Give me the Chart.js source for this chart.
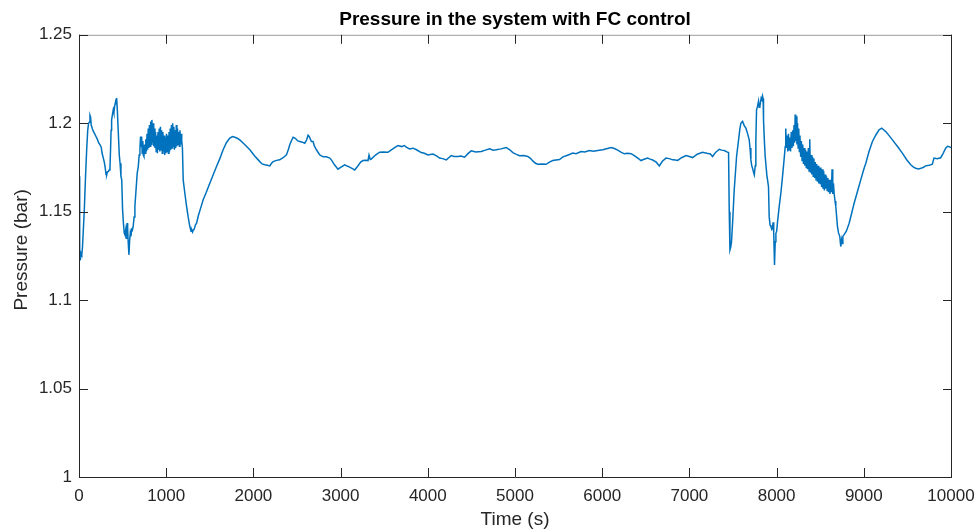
<!DOCTYPE html>
<html>
<head>
<meta charset="utf-8">
<title>Pressure in the system with FC control</title>
<script src="https://cdn.jsdelivr.net/npm/chart.js@4.4.1/dist/chart.umd.min.js"></script>
<style>
  html, body { margin: 0; padding: 0; background: #ffffff; }
  #wrap { width: 979px; height: 531px; }
</style>
</head>
<body>
<div id="wrap"><canvas id="pressureChart" width="979" height="531"></canvas></div>
<script>
// Logged samples: time in seconds and measured pressure in bar
const timeS = [
  0, 8, 15, 23, 32, 40, 50, 61, 75, 88, 100, 110, 118, 126, 133, 140, 152, 164, 180, 195,
  210, 225, 241, 255, 265, 279, 290, 300, 310, 317, 326, 336, 346, 355, 362, 368, 374, 384, 393, 400,
  410, 420, 426, 432, 440, 451, 462, 471, 481, 490, 500, 510, 519, 527, 535, 541, 546, 552, 558, 565,
  573, 580, 588, 596, 603, 612, 622, 632, 641, 655, 668, 680, 690, 699,
  706, 712, 718, 725, 732, 738, 745, 752, 759, 766, 773, 780, 787, 794, 801, 808, 815, 822, 829, 836,
  843, 850, 857, 864, 871, 878, 885, 892, 899, 906, 913, 920, 927, 934, 941, 948, 955, 962, 969, 976,
  983, 990, 997, 1004, 1011, 1018, 1025, 1032, 1039, 1046, 1053, 1060, 1067, 1074, 1081, 1088, 1095, 1102, 1109, 1116,
  1123, 1130, 1137, 1144, 1151, 1158, 1165, 1172, 1178, 1186,
  1195, 1215, 1234, 1252, 1271, 1285, 1295, 1302, 1310, 1320, 1335, 1348, 1370, 1395, 1424, 1460, 1500, 1540, 1577, 1615,
  1653, 1690, 1730, 1760, 1787, 1815, 1844, 1900, 1959, 2015, 2073, 2100, 2131, 2160, 2188, 2210, 2226, 2265, 2302, 2340,
  2379, 2400, 2417, 2435, 2455, 2480, 2510, 2532, 2560, 2589, 2610, 2627, 2640, 2665, 2684, 2700, 2723, 2761, 2780, 2800,
  2837, 2875, 2894, 2930, 2970, 3000, 3047, 3075, 3104, 3130, 3162, 3200, 3230, 3257, 3285, 3314, 3326, 3340, 3352, 3400,
  3448, 3490, 3543, 3582, 3620, 3658, 3700, 3730, 3754, 3790, 3830, 3870, 3925, 3960, 4001, 4059, 4100, 4135, 4170, 4212,
  4240, 4269, 4300, 4345, 4380, 4422, 4460, 4498, 4550, 4613, 4660, 4708, 4750, 4785, 4840, 4899, 4940, 4975, 5010, 5052,
  5100, 5147, 5180, 5204, 5230, 5261, 5310, 5357, 5395, 5433, 5470, 5510, 5550, 5586, 5625, 5662, 5700, 5758, 5800, 5853,
  5900, 5949, 6006, 6050, 6102, 6140, 6178, 6220, 6254, 6290, 6331, 6360, 6388, 6420, 6445, 6480, 6521, 6550, 6579, 6620,
  6655, 6690, 6732, 6770, 6808, 6840, 6865, 6910, 6961, 7000, 7037, 7090, 7151, 7200, 7240, 7266, 7300, 7342, 7370, 7400,
  7430, 7449, 7457, 7465, 7474, 7483, 7495, 7514, 7541, 7564, 7578, 7590, 7600, 7610, 7630, 7648, 7668, 7686, 7695, 7705,
  7715, 7724, 7734, 7744, 7755, 7762, 7770, 7781, 7793, 7800, 7808, 7816, 7823, 7830, 7838, 7845, 7850, 7860, 7869, 7888,
  7907, 7915, 7925, 7935, 7945, 7953, 7960, 7967, 7976, 7984, 7992, 8001, 8011, 8030, 8050, 8068, 8085, 8099,
  8105, 8112, 8120, 8128, 8136, 8144, 8152, 8160, 8168, 8176, 8184, 8192, 8200, 8207, 8213, 8220, 8226, 8233, 8240, 8247,
  8254, 8261, 8268, 8276, 8284, 8292, 8300, 8308, 8316, 8324, 8332, 8340, 8348, 8356, 8364, 8372, 8380, 8388, 8396, 8404,
  8412, 8420, 8428, 8436, 8444, 8452, 8460, 8468, 8476, 8484, 8492, 8500, 8508, 8516, 8524, 8532, 8540, 8548, 8556, 8564,
  8572, 8580, 8588, 8596, 8604, 8612, 8620, 8628, 8636, 8644, 8652, 8660,
  8670, 8679, 8698, 8710, 8725, 8732, 8737, 8745, 8752, 8760, 8774, 8800, 8832, 8860, 8889, 8925, 8965, 9000, 9023, 9060,
  9099, 9140, 9175, 9206, 9230, 9252, 9290, 9328, 9385, 9442, 9490, 9538, 9570, 9595, 9630, 9653, 9680, 9710, 9750, 9786,
  9805, 9840, 9882, 9910, 9939, 9960, 9977, 10000
];

const pressureBar = [
  1.1700, 1.1280, 1.1225, 1.1265, 1.1255, 1.1300, 1.1400, 1.1510, 1.1700, 1.1850, 1.1960, 1.2000, 1.2005, 1.2045, 1.2035, 1.1990, 1.1970, 1.1955, 1.1940, 1.1925,
  1.1910, 1.1890, 1.1878, 1.1865, 1.1830, 1.1803, 1.1780, 1.1750, 1.1710, 1.1708, 1.1725, 1.1727, 1.1735, 1.1746, 1.1850, 1.1960, 1.2019, 1.2050, 1.2076, 1.2060,
  1.2100, 1.2123, 1.2110, 1.2142, 1.2070, 1.1944, 1.1820, 1.1774, 1.1700, 1.1680, 1.1510, 1.1430, 1.1378, 1.1369, 1.1395, 1.1350, 1.1400, 1.1435, 1.1400, 1.1320,
  1.1256, 1.1330, 1.1380, 1.1360, 1.1400, 1.1395, 1.1420, 1.1470, 1.1529, 1.1630, 1.1720, 1.1755, 1.1820, 1.1859,
  1.1925, 1.1870, 1.1925, 1.1830, 1.1900, 1.1820, 1.1812, 1.1880, 1.1830, 1.1910, 1.1840, 1.1940, 1.1850, 1.1970, 1.1860, 1.1990, 1.1870, 1.2010, 1.1880, 1.2019,
  1.1890, 1.2000, 1.1870, 1.1970, 1.1860, 1.1950, 1.1840, 1.1930, 1.1830, 1.1950, 1.1850, 1.1970, 1.1840, 1.1980, 1.1850, 1.1960, 1.1830, 1.1950, 1.1840, 1.1930,
  1.1820, 1.1920, 1.1830, 1.1940, 1.1840, 1.1930, 1.1830, 1.1950, 1.1840, 1.1970, 1.1850, 1.1990, 1.1860, 1.2000, 1.1870, 1.1980, 1.1850, 1.1960, 1.1860, 1.1990,
  1.1870, 1.1970, 1.1880, 1.1950, 1.1870, 1.1960, 1.1880, 1.1940, 1.1900, 1.1860,
  1.1680, 1.1600, 1.1529, 1.1470, 1.1416, 1.1390, 1.1395, 1.1385, 1.1395, 1.1400, 1.1425, 1.1435, 1.1480, 1.1520, 1.1567, 1.1610, 1.1661, 1.1710, 1.1755, 1.1800,
  1.1850, 1.1890, 1.1916, 1.1925, 1.1921, 1.1915, 1.1906, 1.1880, 1.1850, 1.1815, 1.1783, 1.1770, 1.1765, 1.1762, 1.1759, 1.1775, 1.1783, 1.1790, 1.1793, 1.1805,
  1.1821, 1.1850, 1.1878, 1.1900, 1.1921, 1.1915, 1.1900, 1.1897, 1.1893, 1.1887, 1.1905, 1.1932, 1.1925, 1.1897, 1.1897, 1.1870, 1.1850, 1.1821, 1.1816, 1.1810,
  1.1810, 1.1803, 1.1793, 1.1765, 1.1740, 1.1750, 1.1765, 1.1758, 1.1752, 1.1745, 1.1736, 1.1760, 1.1780, 1.1789, 1.1791, 1.1789, 1.1820, 1.1795, 1.1797, 1.1820,
  1.1836, 1.1838, 1.1836, 1.1850, 1.1862, 1.1874, 1.1868, 1.1874, 1.1865, 1.1855, 1.1859, 1.1850, 1.1834, 1.1830, 1.1821, 1.1826, 1.1815, 1.1803, 1.1800, 1.1793,
  1.1805, 1.1817, 1.1812, 1.1812, 1.1815, 1.1808, 1.1828, 1.1844, 1.1838, 1.1840, 1.1848, 1.1855, 1.1848, 1.1850, 1.1855, 1.1863, 1.1850, 1.1834, 1.1825, 1.1816,
  1.1818, 1.1812, 1.1800, 1.1787, 1.1775, 1.1768, 1.1770, 1.1768, 1.1780, 1.1789, 1.1792, 1.1795, 1.1810, 1.1816, 1.1823, 1.1831, 1.1828, 1.1840, 1.1838, 1.1846,
  1.1842, 1.1846, 1.1850, 1.1856, 1.1863, 1.1857, 1.1848, 1.1835, 1.1827, 1.1830, 1.1828, 1.1820, 1.1810, 1.1798, 1.1789, 1.1796, 1.1803, 1.1797, 1.1792, 1.1780,
  1.1759, 1.1785, 1.1803, 1.1800, 1.1793, 1.1792, 1.1790, 1.1805, 1.1817, 1.1812, 1.1806, 1.1825, 1.1836, 1.1830, 1.1826, 1.1812, 1.1835, 1.1853, 1.1848, 1.1846,
  1.1838, 1.1834, 1.1500, 1.1284, 1.1300, 1.1331, 1.1435, 1.1623, 1.1812, 1.1906, 1.1965, 1.2000, 1.2005, 1.2010, 1.1985, 1.1972, 1.1940, 1.1906, 1.1860, 1.1793,
  1.1760, 1.1746, 1.1725, 1.1708, 1.1760, 1.1900, 1.2076, 1.2095, 1.2125, 1.2090, 1.2095, 1.2120, 1.2142, 1.2135, 1.2155, 1.2140, 1.2019, 1.1900, 1.1812, 1.1708,
  1.1642, 1.1472, 1.1425, 1.1416, 1.1400, 1.1407, 1.1440, 1.1380, 1.1199, 1.1330, 1.1378, 1.1390, 1.1444, 1.1530, 1.1610, 1.1700, 1.1790, 1.1868,
  1.1970, 1.1860, 1.1930, 1.1840, 1.1940, 1.1850, 1.1920, 1.1840, 1.1950, 1.1860, 1.1960, 1.1870, 1.1990, 1.1890, 1.2050, 1.1900, 1.2040, 1.1880, 1.2000, 1.1860,
  1.1970, 1.1840, 1.1930, 1.1810, 1.1900, 1.1790, 1.1880, 1.1770, 1.1860, 1.1760, 1.1850, 1.1750, 1.1840, 1.1740, 1.1860, 1.1730, 1.1910, 1.1720, 1.1820, 1.1710,
  1.1810, 1.1700, 1.1800, 1.1690, 1.1780, 1.1680, 1.1770, 1.1670, 1.1760, 1.1660, 1.1750, 1.1660, 1.1750, 1.1640, 1.1740, 1.1630, 1.1730, 1.1620, 1.1710, 1.1630,
  1.1700, 1.1620, 1.1690, 1.1610, 1.1680, 1.1600, 1.1680, 1.1610, 1.1740, 1.1600, 1.1660, 1.1603,
  1.1560, 1.1529, 1.1416, 1.1380, 1.1359, 1.1320, 1.1303, 1.1340, 1.1320, 1.1360, 1.1370, 1.1390, 1.1435, 1.1490, 1.1548, 1.1610, 1.1680, 1.1740, 1.1774, 1.1840,
  1.1897, 1.1935, 1.1963, 1.1972, 1.1962, 1.1953, 1.1930, 1.1906, 1.1870, 1.1831, 1.1795, 1.1765, 1.1752, 1.1746, 1.1742, 1.1745, 1.1750, 1.1759, 1.1762, 1.1768,
  1.1803, 1.1800, 1.1805, 1.1830, 1.1859, 1.1870, 1.1868, 1.1862
];

// Axis ticks and their labels
const xTickValues = [0, 1000, 2000, 3000, 4000, 5000, 6000, 7000, 8000, 9000, 10000];
const xTickLabels = ['0', '1000', '2000', '3000', '4000', '5000', '6000', '7000', '8000', '9000', '10000'];
const yTickValues = [1, 1.05, 1.1, 1.15, 1.2, 1.25];
const yTickLabels = ['1', '1.05', '1.1', '1.15', '1.2', '1.25'];

const chartTitle = 'Pressure in the system with FC control';
const xAxisTitle = 'Time (s)';
const yAxisTitle = 'Pressure (bar)';

const FONT = '"Liberation Sans", Arial, Helvetica, sans-serif';
const AXIS_COLOR = '#262626';
const LINE_COLOR = '#0072BD';

const points = timeS.map((t, i) => ({ x: t, y: pressureBar[i] }));

// Boxed axes with inward tick marks on all four sides, plus the vertical axis title
const boxAxesPlugin = {
  id: 'boxAxes',
  afterDraw(chart) {
    const { ctx, chartArea: a, scales } = chart;
    const tickLen = 9;
    ctx.save();
    ctx.lineWidth = 1;
    // top edge (lighter)
    ctx.strokeStyle = '#9c9c9c';
    ctx.beginPath();
    ctx.moveTo(a.left, a.top + 0.5);
    ctx.lineTo(a.right + 1, a.top + 0.5);
    ctx.stroke();
    // left, bottom, right edges
    ctx.strokeStyle = AXIS_COLOR;
    ctx.beginPath();
    ctx.moveTo(a.left + 0.5, a.top);
    ctx.lineTo(a.left + 0.5, a.bottom + 0.5);
    ctx.lineTo(a.right + 0.5, a.bottom + 0.5);
    ctx.lineTo(a.right + 0.5, a.top);
    ctx.stroke();
    // ticks
    ctx.beginPath();
    scales.x.ticks.forEach(tk => {
      const px = Math.round(scales.x.getPixelForValue(tk.value)) + 0.5;
      ctx.moveTo(px, a.bottom);
      ctx.lineTo(px, a.bottom - tickLen);
      ctx.moveTo(px, a.top);
      ctx.lineTo(px, a.top + tickLen);
    });
    scales.y.ticks.forEach(tk => {
      const py = Math.round(scales.y.getPixelForValue(tk.value)) + 0.5;
      ctx.moveTo(a.left, py);
      ctx.lineTo(a.left + tickLen, py);
      ctx.moveTo(a.right + 1, py);
      ctx.lineTo(a.right + 1 - tickLen, py);
    });
    ctx.stroke();
    // vertical axis title
    ctx.fillStyle = AXIS_COLOR;
    ctx.font = '19px ' + FONT;
    ctx.textAlign = 'center';
    ctx.textBaseline = 'middle';
    ctx.translate(22, (a.top + a.bottom) / 2 - 6);
    ctx.rotate(-Math.PI / 2);
    ctx.fillText(yAxisTitle, 0, 0);
    ctx.restore();
  }
};

new Chart(document.getElementById('pressureChart'), {
  type: 'line',
  data: {
    datasets: [{
      data: points,
      borderColor: LINE_COLOR,
      borderWidth: 1.5,
      pointRadius: 0,
      tension: 0,
      fill: false
    }]
  },
  options: {
    responsive: false,
    devicePixelRatio: 1,
    animation: false,
    layout: { padding: { left: 0, right: 28, top: 0, bottom: 0 } },
    plugins: {
      legend: { display: false },
      tooltip: { enabled: false },
      title: {
        display: true,
        fullSize: false,
        text: chartTitle,
        color: '#000000',
        font: { family: FONT, size: 19, weight: 'bold', lineHeight: 1.2 },
        padding: { top: 8, bottom: 4 }
      }
    },
    scales: {
      x: {
        type: 'linear',
        min: 0,
        max: 10000,
        afterBuildTicks(scale) { scale.ticks = xTickValues.map(v => ({ value: v })); },
        afterFit(scale) { scale.height = 54; scale.paddingLeft = 0; scale.paddingRight = 0; },
        grid: { display: false, drawTicks: false },
        border: { display: false },
        ticks: {
          color: AXIS_COLOR,
          font: { family: FONT, size: 17 },
          padding: 9,
          maxRotation: 0,
          autoSkip: false,
          callback: (v, i) => xTickLabels[i]
        },
        title: {
          display: true,
          text: xAxisTitle,
          color: AXIS_COLOR,
          font: { family: FONT, size: 19, lineHeight: 1.2 },
          padding: { top: 0, bottom: 0 }
        }
      },
      y: {
        type: 'linear',
        min: 1,
        max: 1.25,
        afterBuildTicks(scale) { scale.ticks = yTickValues.map(v => ({ value: v })); },
        afterFit(scale) { scale.width = 79; scale.paddingTop = 0; scale.paddingBottom = 0; },
        grid: { display: false, drawTicks: false },
        border: { display: false },
        ticks: {
          color: AXIS_COLOR,
          font: { family: FONT, size: 17 },
          padding: 7,
          autoSkip: false,
          callback: (v, i) => yTickLabels[i]
        }
      }
    }
  },
  plugins: [boxAxesPlugin]
});
</script>
</body>
</html>
